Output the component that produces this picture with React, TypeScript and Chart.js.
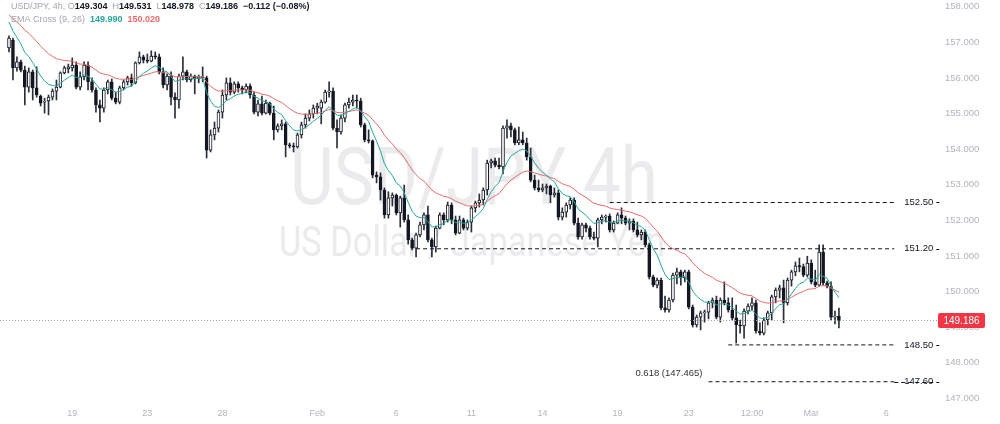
import React, { useEffect, useRef } from "react";
import { Chart, registerables } from "chart.js";

Chart.register(...registerables);

type Candle = [number, number, number, number]; // open, high, low, close

const candlesJan16to24: Candle[] = [
  [156.84, 157.18, 156.73, 157.12],
  [157.06, 157.12, 155.94, 156.28],
  [156.28, 156.59, 156.19, 156.45],
  [156.45, 156.5, 156.17, 156.22],
  [156.22, 156.33, 155.24, 155.74],
  [155.74, 156.28, 155.6, 156.17],
  [156.17, 156.22, 155.38, 155.72],
  [155.72, 156.31, 155.46, 155.52],
  [155.49, 155.52, 155.21, 155.29],
  [155.32, 155.43, 155.01, 155.35],
  [155.35, 155.52, 154.96, 155.46],
  [155.46, 155.69, 155.38, 155.63],
  [155.63, 155.94, 155.38, 155.74],
  [155.74, 156.17, 155.72, 156.14],
  [156.14, 156.33, 156.11, 156.28],
  [156.25, 156.39, 156.14, 156.31],
  [156.28, 156.56, 156.19, 156.36],
  [156.36, 156.45, 155.69, 155.74],
  [155.74, 156.17, 155.66, 156.03],
  [156.03, 156.45, 155.94, 156.36],
  [156.36, 156.45, 155.66, 155.89],
  [155.89, 156.0, 155.6, 155.66],
  [155.66, 155.72, 155.04, 155.24],
  [155.24, 155.38, 154.76, 155.15],
  [155.15, 155.72, 155.04, 155.66],
  [155.66, 155.94, 155.55, 155.89],
  [155.89, 155.97, 155.38, 155.43],
  [155.43, 155.6, 155.27, 155.32],
  [155.32, 155.77, 155.27, 155.72],
  [155.72, 155.94, 155.66, 155.89],
  [155.89, 156.05, 155.8, 156.0],
  [156.0, 156.11, 155.77, 155.86],
  [155.86, 156.45, 155.83, 156.42],
  [156.42, 156.73, 156.39, 156.59],
  [156.59, 156.64, 156.42, 156.5],
  [156.5, 156.67, 156.42, 156.47],
  [156.47, 156.76, 156.45, 156.61],
  [156.61, 156.73, 156.53, 156.59],
  [156.59, 156.67, 156.11, 156.17],
  [156.17, 156.28, 155.72, 155.8],
  [155.8, 156.11, 155.66, 156.05],
  [156.05, 156.17, 155.24, 155.46],
  [155.46, 155.58, 154.87, 155.38],
  [155.38, 156.11, 155.15, 156.05],
  [156.05, 156.59, 155.94, 156.17],
  [156.17, 156.22, 155.89, 155.94],
  [155.94, 156.11, 155.89, 156.05],
  [156.05, 156.08, 155.55, 155.97],
  [155.97, 156.08, 155.86, 156.03],
  [156.03, 156.31, 155.89, 156.0],
];

const candlesJan27toFeb5: Candle[] = [
  [156.0, 156.05, 153.75, 153.97],
  [153.97, 154.54, 153.92, 154.4],
  [154.4, 154.76, 154.26, 154.59],
  [154.59, 155.1, 154.48, 155.04],
  [155.04, 155.66, 154.87, 155.52],
  [155.52, 156.0, 155.38, 155.86],
  [155.86, 156.0, 155.52, 155.6],
  [155.6, 155.89, 155.55, 155.83],
  [155.83, 155.89, 155.6, 155.72],
  [155.72, 155.77, 155.55, 155.66],
  [155.66, 155.83, 155.58, 155.77],
  [155.77, 155.83, 155.43, 155.52],
  [155.52, 155.6, 154.99, 155.04],
  [155.04, 155.38, 154.93, 155.27],
  [155.27, 155.49, 154.96, 155.01],
  [155.01, 155.38, 154.99, 155.29],
  [155.29, 155.32, 154.96, 155.01],
  [155.01, 155.21, 154.26, 154.54],
  [154.54, 154.71, 154.48, 154.65],
  [154.65, 154.82, 154.54, 154.71],
  [154.71, 154.76, 153.78, 154.12],
  [154.12, 154.17, 154.03, 154.09],
  [154.09, 154.17, 153.92, 154.06],
  [154.06, 154.45, 154.03, 154.4],
  [154.4, 154.76, 154.31, 154.68],
  [154.68, 154.99, 154.59, 154.87],
  [154.87, 155.1, 154.79, 154.99],
  [154.99, 155.24, 154.87, 155.15],
  [155.15, 155.29, 154.99, 155.21],
  [155.15, 155.38, 154.71, 155.32],
  [155.32, 155.66, 155.29, 155.6],
  [155.6, 155.89, 155.46, 155.63],
  [155.63, 155.72, 154.54, 154.59],
  [154.59, 154.82, 154.03, 154.48],
  [154.48, 154.96, 154.42, 154.87],
  [154.87, 155.29, 154.76, 155.24],
  [155.24, 155.43, 155.15, 155.32],
  [155.32, 155.52, 155.21, 155.38],
  [155.38, 155.52, 155.15, 155.35],
  [155.35, 155.43, 154.62, 154.68],
  [154.68, 154.73, 154.2, 154.26],
  [154.26, 154.54, 154.17, 154.23],
  [154.23, 154.26, 153.19, 153.27],
  [153.27, 153.36, 153.05, 153.22],
];

const candlesFeb5to12: Candle[] = [
  [153.22, 153.33, 152.57, 152.85],
  [152.85, 152.91, 152.06, 152.15],
  [152.15, 152.8, 152.06, 152.63],
  [152.63, 152.77, 152.4, 152.71],
  [152.71, 152.74, 152.15, 152.21],
  [152.21, 152.68, 151.81, 152.63],
  [152.63, 152.99, 151.95, 152.01],
  [152.01, 152.15, 151.33, 151.45],
  [151.45, 151.5, 151.17, 151.22],
  [151.22, 151.64, 150.97, 151.59],
  [151.59, 151.95, 151.53, 151.87],
  [151.87, 152.21, 151.73, 152.15],
  [152.15, 152.4, 151.39, 151.45],
  [151.45, 151.5, 150.97, 151.25],
  [151.25, 151.84, 151.11, 151.78],
  [151.78, 152.21, 151.76, 152.15],
  [152.15, 152.21, 151.87, 152.01],
  [152.01, 152.51, 151.95, 152.43],
  [152.43, 152.49, 151.9, 152.01],
  [152.01, 152.12, 151.59, 151.64],
  [151.64, 152.12, 151.62, 152.01],
  [152.01, 152.06, 151.73, 151.78],
  [151.78, 152.01, 151.73, 151.95],
  [151.95, 152.4, 151.67, 152.35],
  [152.35, 152.54, 152.23, 152.49],
  [152.49, 152.74, 152.37, 152.57],
  [152.57, 152.91, 152.43, 152.85],
  [152.85, 153.69, 152.71, 153.61],
  [153.61, 153.72, 153.47, 153.67],
  [153.67, 153.75, 153.5, 153.55],
  [153.55, 153.75, 153.44, 153.5],
  [153.5, 154.65, 153.3, 154.59],
];

const candlesFeb12toMar4: Candle[] = [
  [154.59, 154.82, 154.31, 154.65],
  [154.65, 154.73, 154.34, 154.54],
  [154.54, 154.59, 154.12, 154.17],
  [154.17, 154.62, 154.12, 154.26],
  [154.26, 154.48, 154.12, 154.17],
  [154.17, 154.31, 153.69, 153.78],
  [153.78, 154.03, 153.08, 153.13],
  [153.13, 153.27, 152.85, 152.91],
  [152.91, 153.13, 152.8, 152.85],
  [152.85, 153.02, 152.8, 152.91],
  [152.91, 153.02, 152.74, 152.96],
  [152.96, 152.99, 152.49, 152.71],
  [152.71, 152.91, 152.65, 152.77],
  [152.77, 152.85, 152.01, 152.09],
  [152.09, 152.35, 152.01, 152.23],
  [152.23, 152.49, 152.09, 152.43],
  [152.43, 152.63, 152.32, 152.57],
  [152.57, 152.63, 151.87, 151.92],
  [151.92, 152.06, 151.47, 151.53],
  [151.53, 151.92, 151.47, 151.87],
  [151.87, 151.92, 151.67, 151.78],
  [151.78, 151.84, 151.47, 151.53],
  [151.53, 151.67, 151.45, 151.5],
  [151.5, 152.06, 151.25, 152.01],
  [152.01, 152.15, 151.9, 152.09],
  [152.09, 152.15, 151.95, 152.12],
  [152.12, 152.18, 151.67, 151.73],
  [151.73, 151.98, 151.67, 151.92],
  [151.92, 152.21, 151.9, 152.15],
  [152.15, 152.35, 151.9, 152.06],
  [152.06, 152.12, 151.87, 151.92],
  [151.92, 152.04, 151.73, 151.98],
  [151.98, 152.04, 151.67, 151.73],
  [151.73, 151.95, 151.53, 151.59],
  [151.59, 151.73, 151.45, 151.67],
  [151.67, 151.73, 151.25, 151.31],
  [151.31, 151.36, 150.35, 150.41],
  [150.41, 150.46, 150.13, 150.18],
  [150.18, 150.38, 150.1, 150.32],
  [150.32, 150.38, 149.48, 149.54],
  [149.54, 149.87, 149.42, 149.48],
  [149.48, 149.82, 149.42, 149.76],
  [149.76, 150.52, 149.71, 150.46],
  [150.46, 150.66, 150.21, 150.55],
  [150.55, 150.6, 150.18, 150.38],
  [150.38, 150.6, 150.27, 150.55],
  [150.55, 150.6, 149.51, 149.56],
  [149.56, 149.62, 149.0, 149.06],
  [149.06, 149.34, 149.0, 149.28],
  [149.28, 149.45, 148.92, 149.4],
  [149.4, 149.48, 149.14, 149.42],
  [149.42, 149.73, 149.23, 149.68],
  [149.68, 149.82, 149.54, 149.76],
  [149.76, 149.87, 149.23, 149.28],
  [149.28, 149.82, 149.14, 149.76],
  [149.76, 150.27, 149.62, 149.68],
  [149.68, 149.82, 149.42, 149.48],
  [149.48, 149.82, 149.2, 149.26],
  [149.26, 149.62, 148.55, 149.06],
  [149.06, 149.2, 148.83, 149.03],
  [149.03, 149.51, 148.69, 149.45],
  [149.45, 149.65, 149.37, 149.59],
  [149.59, 149.82, 149.48, 149.68],
  [149.68, 149.76, 148.83, 148.89],
  [148.89, 149.12, 148.78, 148.83],
  [148.83, 149.26, 148.78, 149.2],
  [149.2, 149.45, 149.06, 149.4],
  [149.4, 149.9, 149.2, 149.85],
  [149.85, 150.1, 149.68, 150.04],
  [150.04, 150.18, 149.82, 150.1],
  [150.1, 150.32, 149.12, 149.68],
  [149.68, 150.38, 149.62, 150.32],
  [150.32, 150.6, 150.15, 150.55],
  [150.55, 150.83, 150.44, 150.72],
  [150.72, 150.94, 150.55, 150.7],
  [150.7, 150.77, 150.41, 150.46],
  [150.46, 150.99, 150.41, 150.8],
  [150.8, 150.89, 150.21, 150.27],
  [150.27, 150.6, 150.13, 150.18],
  [150.18, 151.31, 150.15, 151.11],
  [151.11, 151.31, 150.18, 150.24],
  [150.24, 150.29, 150.1, 150.15],
  [150.15, 150.27, 149.2, 149.28],
  [149.28, 149.45, 149.09, 149.298],
  [149.304, 149.531, 148.978, 149.186],
];

const symbolTitle = "USD/JPY, 4h, ";
const indicatorTitle = "EMA Cross (9, 26)";
const emaPeriods = [9, 26];
const emaStartValues = [157.57, 157.77];
const emaLegendValues = ["149.990", "150.020"];
const watermarkLines = ["USD/JPY 4h", "US Dollar / Japanese Yen"];

const xTickIndex = [16, 35, 54, 78, 98, 117, 135, 154, 172, 188, 203, 222];
const xTickLabels = ["19", "23", "28", "Feb", "6", "11", "14", "19", "23", "12:00", "Mar", "6"];
const yTickValues = [147, 148, 149, 150, 151, 152, 153, 154, 155, 156, 157, 158];

const levelValues = [152.5, 151.2, 148.5, 147.465];
const levelLabels = ["152.50", "151.20", "148.50", "147.60"];
const levelStartIndex = [152, 103, 182, 177];
const levelEndIndex = 224;
const fibLabel = "0.618 (147.465)";

const FONT = '"Liberation Sans", Arial, sans-serif';
const DARK = "#131722";
const GREY = "#a3a6af";
const TEAL = "#26a69a";
const RED = "#ea6a6a";

function emaSeries(values: number[], period: number, start: number): number[] {
  const k = 2 / (period + 1);
  const out: number[] = [];
  let e = start;
  values.forEach((v, i) => {
    e = i === 0 ? start : v * k + e * (1 - k);
    out.push(e);
  });
  return out;
}

function drawStretched(ctx: CanvasRenderingContext2D, text: string, size: number, width: number, cx: number, baseline: number) {
  ctx.font = `${size}px Roboto, ${FONT}`;
  const w = ctx.measureText(text).width;
  ctx.save();
  ctx.translate(cx, baseline);
  ctx.scale(width / w, 1);
  ctx.textAlign = "center";
  ctx.textBaseline = "alphabetic";
  ctx.fillText(text, 0, 0);
  ctx.restore();
}

function drawSegments(ctx: CanvasRenderingContext2D, segs: [string, string, boolean][], x: number, y: number) {
  ctx.textAlign = "left";
  ctx.textBaseline = "middle";
  for (const [t, color, bold] of segs) {
    ctx.font = `${bold ? "bold " : ""}9px ${FONT}`;
    ctx.fillStyle = color;
    ctx.fillText(t, x, y);
    x += ctx.measureText(t).width;
  }
}

export default function App() {
  const ref = useRef<HTMLCanvasElement>(null);

  useEffect(() => {
    const canvas = ref.current;
    if (!canvas) return;
    const candles: Candle[] = [
      ...candlesJan16to24,
      ...candlesJan27toFeb5,
      ...candlesFeb5to12,
      ...candlesFeb12toMar4,
    ];
    const closes = candles.map((c) => c[3]);
    const emaFast = emaSeries(closes, emaPeriods[0], emaStartValues[0]);
    const emaSlow = emaSeries(closes, emaPeriods[1], emaStartValues[1]);
    const up = candles.map((c) => c[3] >= c[0]);
    const last = candles[candles.length - 1];
    const prev = candles[candles.length - 2];
    const change = last[3] - prev[3];
    const changePct = (change / prev[3]) * 100;
    const fmtSigned = (v: number, d: number) => (v < 0 ? "\u2212" : "+") + Math.abs(v).toFixed(d);

    const overlay = {
      id: "tvOverlay",
      beforeDatasetsDraw(chart: any) {
        const ctx: CanvasRenderingContext2D = chart.ctx;
        ctx.save();
        ctx.fillStyle = "#ebebed";
        drawStretched(ctx, watermarkLines[0], 80, 368, 474, 204);
        drawStretched(ctx, watermarkLines[1], 42, 386, 472, 256);
        ctx.restore();
      },
      afterDatasetsDraw(chart: any) {
        const ctx: CanvasRenderingContext2D = chart.ctx;
        const area = chart.chartArea;
        const xs = chart.scales.x;
        const ys = chart.scales.y;
        ctx.save();

        // last price line + label
        const py = Math.round(ys.getPixelForValue(last[3])) + 0.5;
        ctx.strokeStyle = "#a0a3ab";
        ctx.lineWidth = 1;
        ctx.setLineDash([1, 2]);
        ctx.beginPath();
        ctx.moveTo(area.left, py);
        ctx.lineTo(area.right + 3, py);
        ctx.stroke();
        ctx.setLineDash([]);
        ctx.fillStyle = "#f23645";
        ctx.beginPath();
        ctx.roundRect(area.right + 3, py - 7.5, 47, 15, 2);
        ctx.fill();
        ctx.fillStyle = "#ffffff";
        ctx.font = `10px ${FONT}`;
        ctx.textAlign = "center";
        ctx.textBaseline = "middle";
        ctx.fillText(last[3].toFixed(3), area.right + 26.5, py + 0.5);

        // level labels
        const xEnd = xs.getPixelForValue(levelEndIndex);
        levelValues.forEach((v, k) => {
          const y = ys.getPixelForValue(v);
          ctx.fillStyle = DARK;
          ctx.font = `9.5px ${FONT}`;
          ctx.textAlign = "left";
          ctx.textBaseline = "middle";
          const tx = xEnd + 10;
          ctx.fillText(levelLabels[k], tx, y);
          const w = ctx.measureText(levelLabels[k]).width;
          ctx.strokeStyle = DARK;
          ctx.lineWidth = 1;
          if (k === levelValues.length - 1) {
            ctx.setLineDash([4, 3]);
            ctx.beginPath();
            ctx.moveTo(xEnd, Math.round(y) + 0.5);
            ctx.lineTo(tx + w + 6, Math.round(y) + 0.5);
            ctx.stroke();
            ctx.setLineDash([]);
          } else {
            ctx.beginPath();
            ctx.moveTo(tx + w + 3, Math.round(y) + 0.5);
            ctx.lineTo(tx + w + 6, Math.round(y) + 0.5);
            ctx.stroke();
          }
        });

        // fib label
        const fy = ys.getPixelForValue(levelValues[3]);
        const fx = xs.getPixelForValue(levelStartIndex[3]);
        ctx.fillStyle = "#333333";
        ctx.font = `9.5px ${FONT}`;
        ctx.textAlign = "right";
        ctx.textBaseline = "middle";
        ctx.fillText(fibLabel, fx - 6, fy - 8);

        // legend
        drawSegments(
          ctx,
          [
            [symbolTitle, GREY, false],
            ["O", GREY, false],
            [last[0].toFixed(3), DARK, true],
            ["  H", GREY, false],
            [last[1].toFixed(3), DARK, true],
            ["  L", GREY, false],
            [last[2].toFixed(3), DARK, true],
            ["  C", GREY, false],
            [last[3].toFixed(3), DARK, true],
            [`  ${fmtSigned(change, 3)} (${fmtSigned(changePct, 2)}%)`, DARK, true],
          ],
          11,
          7
        );
        drawSegments(
          ctx,
          [
            [indicatorTitle + "  ", GREY, false],
            [emaLegendValues[0], TEAL, true],
            ["  ", GREY, false],
            [emaLegendValues[1], RED, true],
          ],
          11,
          20
        );
        ctx.restore();
      },
    };

    Chart.defaults.font.family = FONT;

    const levelDatasets = levelValues.map((v, k) => ({
      type: "line" as const,
      data: [
        { x: levelStartIndex[k], y: v },
        { x: levelEndIndex, y: v },
      ],
      borderColor: DARK,
      borderWidth: 1,
      borderDash: [4, 3],
      pointRadius: 0,
      order: 0,
    }));

    const chart = new Chart(canvas, {
      type: "bar",
      data: {
        datasets: [
          {
            type: "bar",
            data: candles.map((c, i) => ({ x: i, y: [c[2], c[1]] })) as any,
            backgroundColor: "#2a2e39",
            barThickness: 1,
            grouped: false,
            order: 4,
          },
          {
            type: "bar",
            data: candles.map((c, i) => ({ x: i, y: [c[0], c[3]] })) as any,
            backgroundColor: up.map((u) => (u ? "#ffffff" : "#131722")),
            borderColor: "#131722",
            borderWidth: 1,
            borderSkipped: false,
            barThickness: 3,
            minBarLength: 1,
            grouped: false,
            order: 3,
          },
          {
            type: "line",
            data: emaSlow.map((v, i) => ({ x: i, y: v })),
            borderColor: RED,
            borderWidth: 1,
            pointRadius: 0,
            tension: 0,
            order: 2,
          },
          {
            type: "line",
            data: emaFast.map((v, i) => ({ x: i, y: v })),
            borderColor: TEAL,
            borderWidth: 1,
            pointRadius: 0,
            tension: 0,
            order: 1,
          },
          ...levelDatasets,
        ] as any,
      },
      options: {
        responsive: false,
        animation: false,
        events: [],
        layout: { padding: 0 },
        plugins: { legend: { display: false }, tooltip: { enabled: false } },
        scales: {
          x: {
            type: "linear",
            offset: false,
            min: -2.28,
            max: 234.31,
            grid: { display: false, drawTicks: false },
            border: { display: false },
            afterBuildTicks: (scale: any) => {
              scale.ticks = xTickIndex.map((v) => ({ value: v }));
            },
            afterFit: (scale: any) => {
              scale.height = 24;
              scale.paddingLeft = 0;
              scale.paddingRight = 0;
            },
            ticks: {
              autoSkip: false,
              maxRotation: 0,
              padding: 8,
              color: "#b2b5be",
              font: { size: 9 },
              callback: (value: any) => {
                const k = xTickIndex.indexOf(Number(value));
                return k >= 0 ? xTickLabels[k] : "";
              },
            },
          },
          y: {
            type: "linear",
            position: "right",
            min: 146.952,
            max: 158.188,
            beginAtZero: false,
            grid: { display: false, drawTicks: false },
            border: { display: false },
            afterBuildTicks: (scale: any) => {
              scale.ticks = yTickValues.map((v) => ({ value: v }));
            },
            afterFit: (scale: any) => {
              scale.width = 65;
              scale.paddingTop = 0;
              scale.paddingBottom = 0;
            },
            ticks: {
              padding: 10,
              color: "#b2b5be",
              font: { size: 9.5 },
              callback: (value: any) => Number(value).toFixed(3),
            },
          },
        },
      } as any,
      plugins: [overlay],
    });

    return () => chart.destroy();
  }, []);

  return (
    <div style={{ position: "absolute", left: 0, top: 0, width: 1000, height: 424, background: "#ffffff" }}>
      <canvas ref={ref} width={1000} height={424} style={{ display: "block", width: 1000, height: 424 }} />
    </div>
  );
}
